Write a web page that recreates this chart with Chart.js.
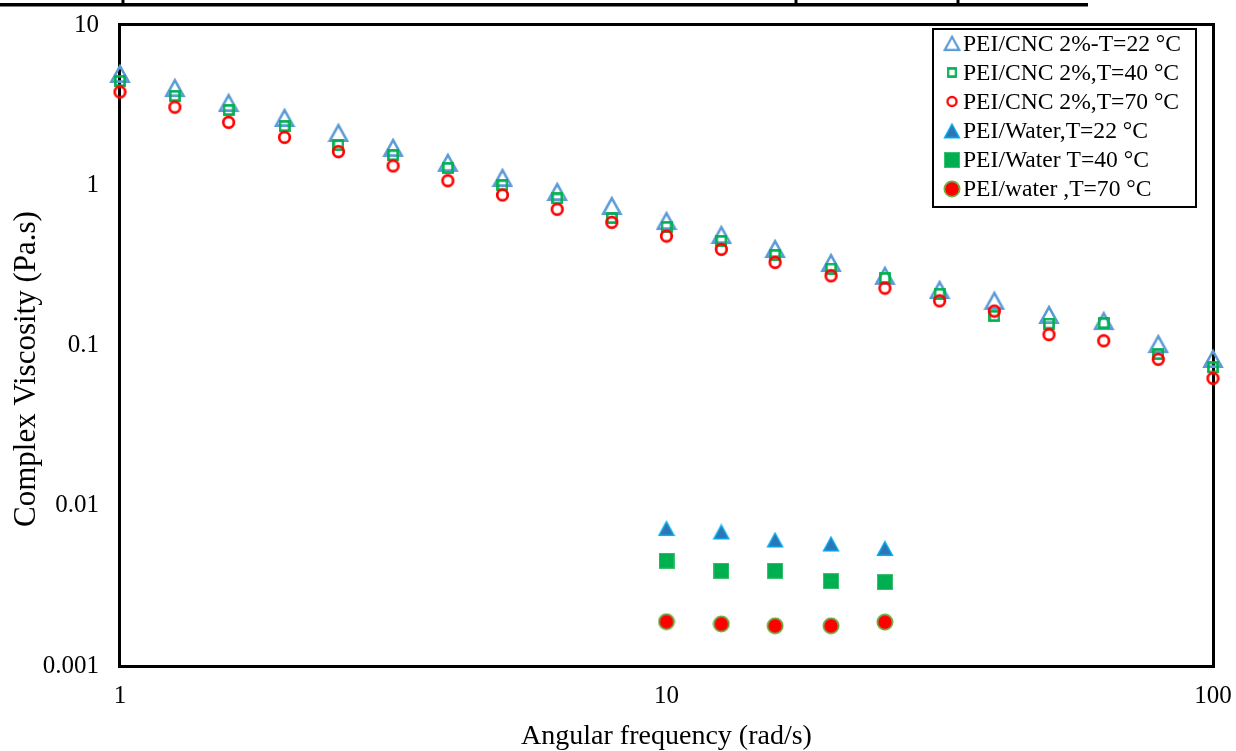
<!DOCTYPE html>
<html>
<head>
<meta charset="utf-8">
<script src="https://cdn.jsdelivr.net/npm/chart.js@4.4.1/dist/chart.umd.min.js"></script>
<style>
  html, body { margin: 0; padding: 0; background: #ffffff; }
  #wrap { width: 1236px; height: 751px; position: relative; }
</style>
</head>
<body>
<div id="wrap"><canvas id="chart" width="1236" height="751"></canvas></div>
<script>
// Angular frequency (rad/s) for each sweep
const freqCNC = [1, 1.26, 1.58, 2, 2.51, 3.16, 3.98, 5.01, 6.31, 7.94, 10,
                 12.6, 15.8, 20, 25.1, 31.6, 39.8, 50.1, 63.1, 79.4, 100];
const freqWater = [10, 12.6, 15.8, 20, 25.1];

// Complex viscosity (Pa.s)
const cnc22 = [4.95, 4.04, 3.26, 2.63, 2.12, 1.71, 1.38, 1.11, 0.908, 0.742, 0.598,
               0.489, 0.400, 0.327, 0.272, 0.222, 0.190, 0.155, 0.142, 0.102, 0.0824];
const cnc40 = [4.47, 3.61, 2.95, 2.34, 1.78, 1.54, 1.28, 1.00, 0.827, 0.625, 0.549,
               0.449, 0.367, 0.302, 0.264, 0.210, 0.153, 0.137, 0.138, 0.0885, 0.0729];
const cnc70 = [3.82, 3.07, 2.47, 1.99, 1.62, 1.32, 1.067, 0.87, 0.708, 0.587, 0.482,
               0.398, 0.330, 0.272, 0.228, 0.190, 0.164, 0.117, 0.107, 0.082, 0.0624];
const water22 = [0.00721, 0.00686, 0.00611, 0.00577, 0.00541];
const water40 = [0.00454, 0.00393, 0.00393, 0.00339, 0.00334];
const water70 = [0.00189, 0.00183, 0.00178, 0.00178, 0.00188];

const seriesLabels = [
  'PEI/CNC 2%-T=22 °C',
  'PEI/CNC 2%,T=40 °C',
  'PEI/CNC 2%,T=70 °C',
  'PEI/Water,T=22 °C',
  'PEI/Water T=40 °C',
  'PEI/water ,T=70 °C'
];

const xTicks = [1, 10, 100];
const xTickLabels = ['1', '10', '100'];
const yTicks = [0.001, 0.01, 0.1, 1, 10];
const yTickLabels = ['0.001', '0.01', '0.1', '1', '10'];

const xTitle = 'Angular frequency (rad/s)';
const yTitle = 'Complex Viscosity (Pa.s)';

const SERIF = '"Liberation Serif", "Times New Roman", serif';

// ---- marker sprites ----
function sprite(w, h, draw) {
  const c = document.createElement('canvas');
  c.width = w; c.height = h;
  const g = c.getContext('2d');
  draw(g, w, h);
  return c;
}
const triOpen = sprite(22, 22, (g) => {
  g.beginPath();
  g.moveTo(11, 3.2); g.lineTo(19.6, 18.6); g.lineTo(2.4, 18.6); g.closePath();
  g.lineWidth = 2.6; g.lineJoin = 'miter'; g.strokeStyle = '#5B9BD5'; g.stroke();
});
const sqOpen = sprite(12, 12, (g) => {
  g.lineWidth = 2.6; g.strokeStyle = '#00B050'; g.strokeRect(1.4, 1.4, 9.2, 9.2);
});
const circOpen = sprite(15, 15, (g) => {
  g.beginPath(); g.arc(7.5, 7.5, 5.3, 0, Math.PI * 2);
  g.lineWidth = 2.7; g.strokeStyle = '#FF0000'; g.stroke();
});
const triFill = sprite(18, 17, (g) => {
  g.beginPath();
  g.moveTo(9, 1.5); g.lineTo(16.5, 15.2); g.lineTo(1.5, 15.2); g.closePath();
  g.fillStyle = '#2E75B6'; g.fill();
  g.lineWidth = 1.4; g.strokeStyle = '#00B0F0'; g.stroke();
});
const sqFill = sprite(16, 16, (g) => {
  g.fillStyle = '#00B050'; g.fillRect(0.5, 0.5, 15, 15);
  g.lineWidth = 1; g.strokeStyle = '#3CC070'; g.strokeRect(0.5, 0.5, 15, 15);
});
const circFill = sprite(18, 18, (g) => {
  g.beginPath(); g.arc(9, 9, 7.6, 0, Math.PI * 2);
  g.fillStyle = '#FF0000'; g.fill();
  g.lineWidth = 1.8; g.strokeStyle = '#70AD47'; g.stroke();
});
const markers = [triOpen, sqOpen, circOpen, triFill, sqFill, circFill];

function pts(xs, ys) { return xs.map((x, i) => ({ x: x, y: ys[i] })); }

const seriesData = [
  pts(freqCNC, cnc22), pts(freqCNC, cnc40), pts(freqCNC, cnc70),
  pts(freqWater, water22), pts(freqWater, water40), pts(freqWater, water70)
];
// later series sit on top of earlier ones
const drawOrder = [6, 5, 4, 3, 2, 1];

const datasets = seriesLabels.map((label, i) => ({
  label: label,
  data: seriesData[i],
  pointStyle: markers[i],
  pointRadius: 9,
  pointHoverRadius: 9,
  showLine: false,
  clip: false,
  order: drawOrder[i]
}));

// frame around the plot area and the rule across the top edge
const framePlugin = {
  id: 'frame',
  beforeDatasetsDraw(chart) {
    const { ctx, chartArea: a } = chart;
    ctx.save();
    ctx.strokeStyle = '#000';
    ctx.lineWidth = 3;
    ctx.strokeRect(a.left - 0.5, a.top - 0.5, a.right - a.left + 1, a.bottom - a.top + 1);
    ctx.fillStyle = '#000';
    ctx.fillRect(0, 3, 1088, 3.5);
    [123, 796, 958].forEach(x => ctx.fillRect(x - 1.5, 0, 3, 4));
    ctx.restore();
  }
};

// vertical axis title, set a little below the middle of the plot
const yTitlePlugin = {
  id: 'yTitle',
  afterDraw(chart) {
    const { ctx } = chart;
    ctx.save();
    ctx.translate(27, 369);
    ctx.rotate(-Math.PI / 2);
    ctx.font = '31px ' + SERIF;
    ctx.fillStyle = '#000';
    ctx.textAlign = 'center';
    ctx.textBaseline = 'middle';
    ctx.fillText(yTitle, 0, 0);
    ctx.restore();
  }
};

// boxed legend in the upper right of the plot
const boxLegend = {
  id: 'boxLegend',
  afterDraw(chart) {
    const { ctx } = chart;
    const x0 = 933, y0 = 29, w = 263, h = 178;
    const rowY = [43.5, 72.5, 101.5, 131, 160, 189];
    ctx.save();
    ctx.fillStyle = '#fff';
    ctx.fillRect(x0, y0, w, h);
    ctx.strokeStyle = '#000';
    ctx.lineWidth = 2;
    ctx.strokeRect(x0, y0, w, h);
    ctx.font = '23.6px ' + SERIF;
    ctx.fillStyle = '#000';
    ctx.textBaseline = 'middle';
    ctx.textAlign = 'left';
    seriesLabels.forEach((label, i) => {
      const m = markers[i];
      const s = i < 3 ? 0.85 : 1;
      ctx.drawImage(m, 952 - m.width * s / 2, rowY[i] - m.height * s / 2, m.width * s, m.height * s);
      ctx.fillText(label, 963, rowY[i] + 1);
    });
    ctx.restore();
  }
};

// keep the plot rectangle fixed: no extra room reserved for edge labels
function noEdgePadding(s) {
  s.paddingTop = 0; s.paddingBottom = 0; s.paddingLeft = 0; s.paddingRight = 0;
}

new Chart(document.getElementById('chart'), {
  type: 'scatter',
  data: { datasets: datasets },
  options: {
    responsive: false,
    animation: false,
    devicePixelRatio: 1,
    layout: { padding: { top: 25, right: 23, left: 0, bottom: 0 } },
    plugins: {
      legend: { display: false },
      tooltip: { enabled: false },
      title: { display: false }
    },
    scales: {
      x: {
        type: 'logarithmic',
        min: 1, max: 100,
        afterBuildTicks: (s) => { s.ticks = xTicks.map(v => ({ value: v })); },
        afterFit: (s) => { s.height = 85; noEdgePadding(s); },
        grid: { display: false, drawTicks: false },
        border: { display: false },
        ticks: {
          color: '#000',
          font: { family: SERIF, size: 25 },
          padding: 15,
          maxRotation: 0,
          autoSkip: false,
          callback: (v) => xTickLabels[xTicks.indexOf(v)] ?? ''
        },
        title: {
          display: true,
          text: xTitle,
          color: '#000',
          font: { family: SERIF, size: 28, lineHeight: 1 },
          padding: { top: 0, bottom: 0 }
        }
      },
      y: {
        type: 'logarithmic',
        min: 0.001, max: 10,
        afterBuildTicks: (s) => { s.ticks = yTicks.map(v => ({ value: v })); },
        afterFit: (s) => { s.width = 120; noEdgePadding(s); },
        grid: { display: false, drawTicks: false },
        border: { display: false },
        ticks: {
          color: '#000',
          font: { family: SERIF, size: 25 },
          padding: 21,
          autoSkip: false,
          callback: (v) => yTickLabels[yTicks.indexOf(v)] ?? ''
        },
        title: { display: false }
      }
    }
  },
  plugins: [framePlugin, yTitlePlugin, boxLegend]
});
</script>
</body>
</html>
